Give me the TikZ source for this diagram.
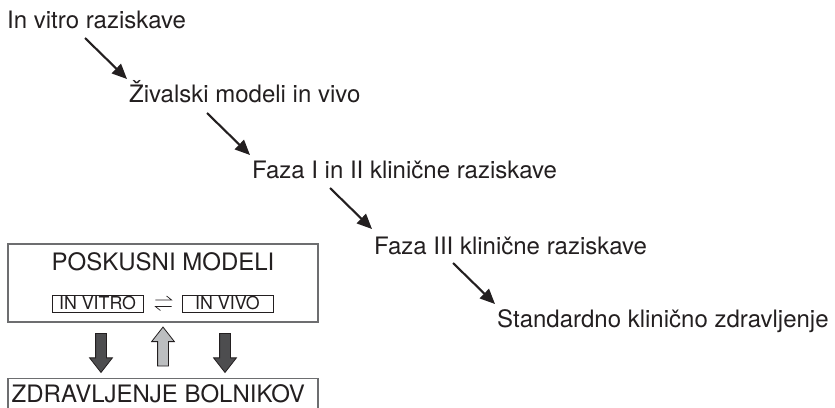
\documentclass[tikz,border=0pt]{standalone}
\usepackage{fontspec}
\setmainfont{TeX Gyre Heros}
\usetikzlibrary{arrows.meta,shapes.arrows,calc}
\definecolor{ink}{HTML}{231F20}
\definecolor{frame}{HTML}{6D6E70}
\definecolor{darkblk}{HTML}{4D4D4F}
\definecolor{lightblk}{HTML}{BCBEC0}
\begin{document}
\begin{tikzpicture}[x=1pt,y=-1pt,
  lbl/.style={inner sep=0, anchor=base west, text=ink, font=\fontsize{24}{28}\selectfont},
  conn/.style={ink, line width=2.1pt, -{Triangle[length=15pt,width=13pt]}},
  frm/.style={draw=frame, line width=1.1pt, inner sep=0},
  smallbox/.style={draw=ink, line width=0.8pt, inner sep=0, minimum width=91pt, minimum height=17pt, text=ink, font=\fontsize{17.8}{20}\selectfont},
  harp/.style={ink, line width=0.7pt},
  blk/.style={single arrow, draw=ink, line width=0.8pt, inner xsep=0pt, inner ysep=5pt, minimum width=22pt, single arrow head extend=6pt, single arrow tip angle=76, single arrow head indent=0pt, minimum height=39pt}
]
\useasboundingbox (0,0) rectangle (835,407);
\clip (0,0) rectangle (835,407);
\fill[white] (0,0) rectangle (835,407);

% sequence of stages
\node[lbl] (t1) at (7,28) {In vitro raziskave};
\node[lbl] (t2) at (129,102) {Živalski modeli in vivo};
\node[lbl] (t3) at (252,178) {Faza I in II klinične raziskave};
\node[lbl] (t4) at (374,254) {Faza III klinične raziskave};
\node[lbl] (t5) at (497,327) {Standardno klinično zdravljenje};

\draw[conn] ($(t1.base west)+(78,10)$) -- ($(t2.base west)+(-2,-23)$);
\draw[conn] ($(t2.base west)+(78,11)$) -- ($(t3.base west)+(-2,-23)$);
\draw[conn] ($(t3.base west)+(78,10)$) -- ($(t4.base west)+(-2,-25)$);
\draw[conn] ($(t4.base west)+(79,9)$) -- ($(t5.base west)+(-2,-23)$);

% experimental models box
\node[frm, minimum width=310pt, minimum height=78pt] (pm) at (163,283) {};
\node[lbl, anchor=base] (pmt) at (163,270) {POSKUSNI MODELI};
\node[smallbox] (iv) at (97.5,303.5) {IN VITRO};
\node[smallbox] (ivv) at (227.5,303.5) {IN VIVO};
\draw[harp] ($(iv.east)+(12,-3.5)$) -- ($(ivv.west)+(-10,-3.5)$) -- ++(-5,-4);
\draw[harp] ($(iv.east)+(17,7)$) -- ($(iv.east)+(12,3)$) -- ($(ivv.west)+(-10,3)$);

% block arrows
\node[blk, fill=darkblk, rotate=-90] (d1) at (101,349.5) {};
\node[blk, fill=lightblk, rotate=90] (u1) at (163,350) {};
\node[blk, fill=darkblk, rotate=-90] (d2) at (225,349.5) {};

% patient treatment box
\node[frm, minimum width=310pt, minimum height=50pt, anchor=north] (zbf) at (163,378) {};
\node[lbl] (zb) at (11.5,402) {ZDRAVLJENJE BOLNIKOV};
\end{tikzpicture}
\end{document}
